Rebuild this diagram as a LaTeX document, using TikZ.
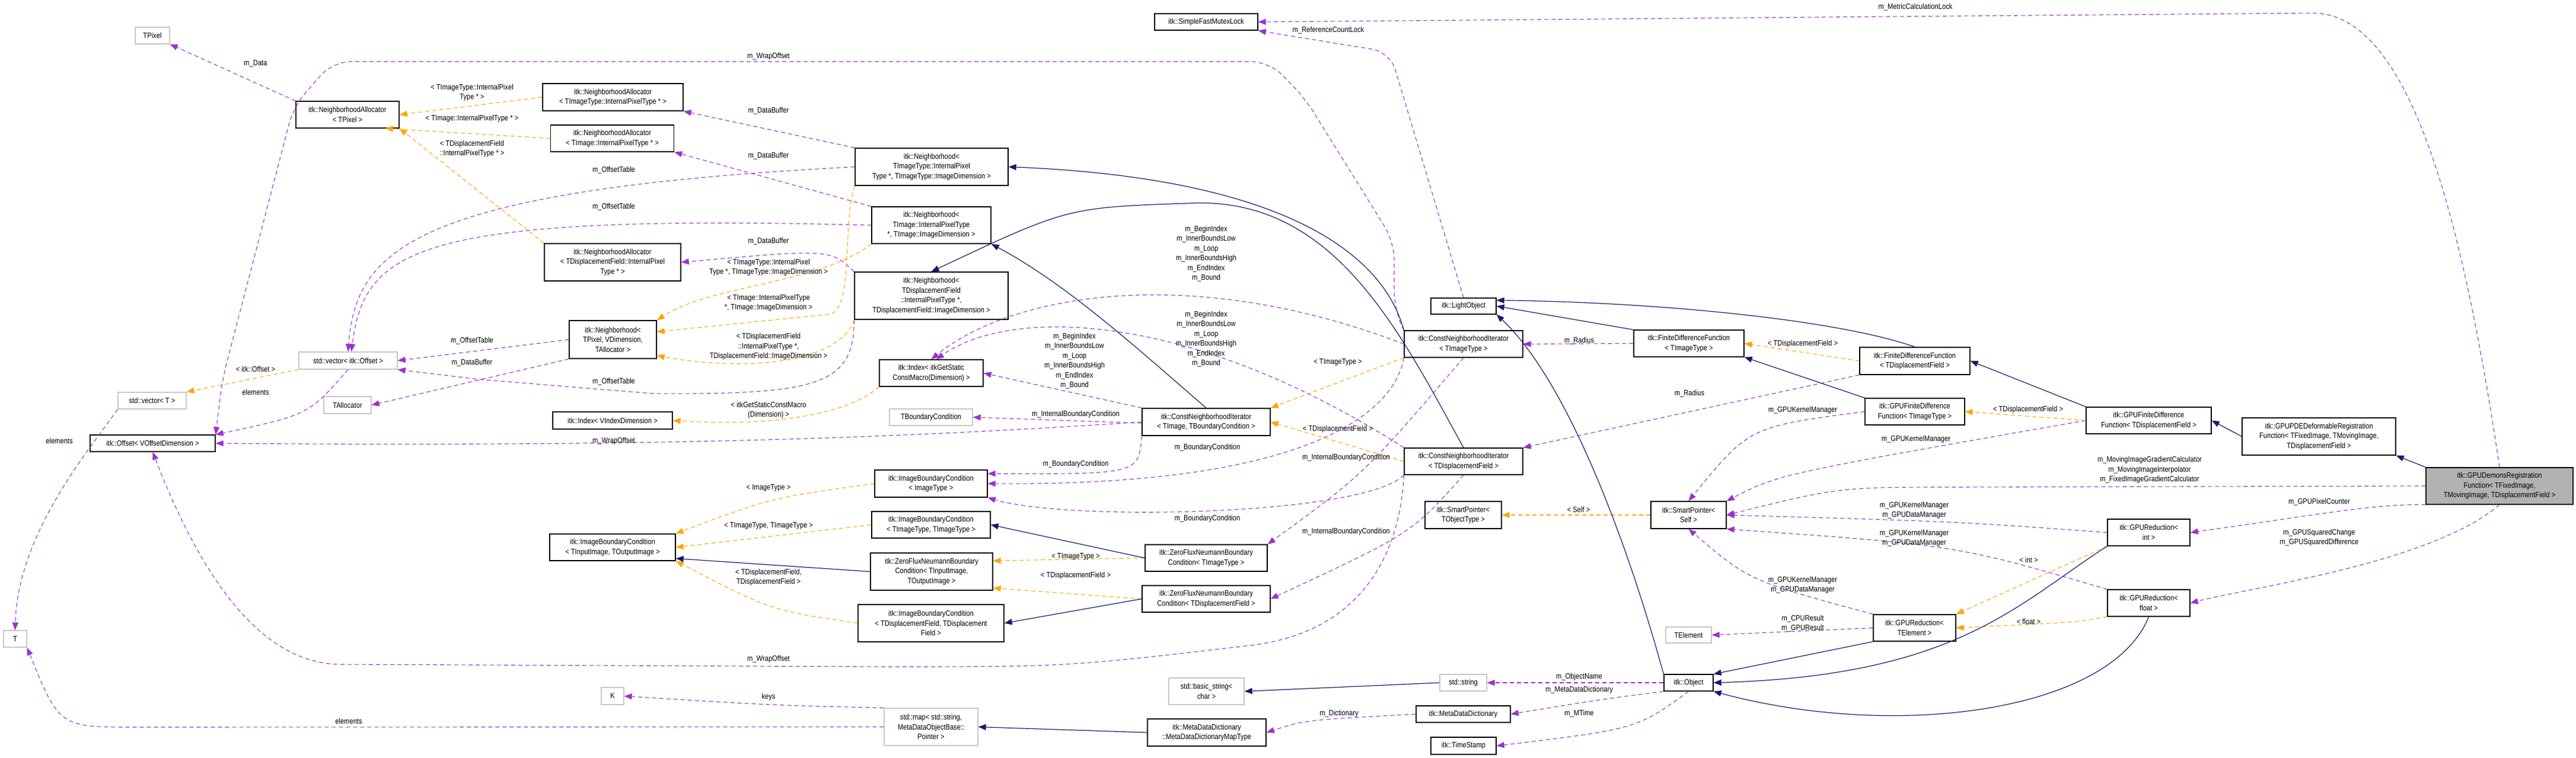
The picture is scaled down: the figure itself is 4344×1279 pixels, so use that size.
\documentclass[tikz,border=0pt]{standalone}
\usepackage{fontspec}
\setmainfont{Liberation Sans}[FakeStretch=0.86]
\usetikzlibrary{arrows.meta}
\definecolor{usec}{HTML}{9A32CD}
\definecolor{tplc}{HTML}{FFA500}
\definecolor{inhc}{HTML}{191970}
\begin{document}
\begin{tikzpicture}[x=1pt,y=-1pt,
  every node/.style={font=\fontsize{13}{16.5}\selectfont, inner sep=0pt, align=center},
  box/.style={draw=black, line width=1.3pt, fill=white},
  gbox/.style={draw=black!22, line width=1.3pt, fill=white},
  hbox/.style={draw=black, line width=1.3pt, fill=black!30},
  lbl/.style={fill=none},
  use/.style={draw=usec, dashed, dash pattern=on 7pt off 5pt, line width=1.1pt, -{Triangle[length=13pt,width=10pt]}},
  tpl/.style={draw=tplc, dashed, dash pattern=on 7pt off 5pt, line width=1.1pt, -{Triangle[length=13pt,width=10pt]}},
  inh/.style={draw=inhc, line width=1.2pt, -{Triangle[length=13pt,width=10pt]}}]
\useasboundingbox (0,0) rectangle (4344,1279);
% ---------- nodes ----------
\node[gbox, minimum width=58, minimum height=28] (TPixel) at (257,60) {TPixel};
\node[box, minimum width=174, minimum height=45] (NAtp) at (586,193.5) {itk::NeighborhoodAllocator\\< TPixel >};
\node[box, minimum width=237, minimum height=46] (NAtit) at (1033.5,164) {itk::NeighborhoodAllocator\\< TImageType::InternalPixelType * >};
\node[box, minimum width=208, minimum height=45] (NAti) at (1032.5,233.5) {itk::NeighborhoodAllocator\\< TImage::InternalPixelType * >};
\node[box, minimum width=230, minimum height=63] (NAtdf) at (1033,442.5) {itk::NeighborhoodAllocator\\< TDisplacementField::InternalPixel\\Type * >};
\node[box, minimum width=147, minimum height=64] (NbTP) at (1033.5,573) {itk::Neighborhood<\\TPixel, VDimension,\\TAllocator >};
\node[gbox, minimum width=166, minimum height=29] (vecOff) at (587,608.5) {std::vector< itk::Offset >};
\node[gbox, minimum width=115, minimum height=28] (vecT) at (256.5,676) {std::vector< T >};
\node[gbox, minimum width=80, minimum height=29] (TAlloc) at (586,683.5) {TAllocator};
\node[box, minimum width=202, minimum height=29] (IndexV) at (1033,709.5) {itk::Index< VIndexDimension >};
\node[box, minimum width=211, minimum height=28] (Offset) at (257.5,748) {itk::Offset< VOffsetDimension >};
\node[box, minimum width=212, minimum height=45] (IBCio) at (1033,923.5) {itk::ImageBoundaryCondition\\< TInputImage, TOutputImage >};
\node[gbox, minimum width=39, minimum height=28] (T) at (25.5,1078) {T};
\node[gbox, minimum width=38, minimum height=29] (K) at (1033,1174.5) {K};
\node[box, minimum width=174, minimum height=28] (SFML) at (2034,37) {itk::SimpleFastMutexLock};
\node[box, minimum width=258, minimum height=63] (NbTIT) at (1571,281.5) {itk::Neighborhood<\\ TImageType::InternalPixel\\Type *, TImageType::ImageDimension >};
\node[box, minimum width=201, minimum height=62] (NbTI) at (1570.5,380) {itk::Neighborhood<\\ TImage::InternalPixelType\\*, TImage::ImageDimension >};
\node[box, minimum width=259, minimum height=80] (NbTDF) at (1570.5,499) {itk::Neighborhood<\\TDisplacementField\\::InternalPixelType *,\\TDisplacementField::ImageDimension >};
\node[box, minimum width=175, minimum height=45] (IdxS) at (1570.5,629.5) {itk::Index< itkGetStatic\\ConstMacro(Dimension) >};
\node[gbox, minimum width=140, minimum height=28] (TBC) at (1570,704) {TBoundaryCondition};
\node[box, minimum width=216, minimum height=46] (CNItbc) at (2034,712) {itk::ConstNeighborhoodIterator\\< TImage, TBoundaryCondition >};
\node[box, minimum width=190, minimum height=46] (IBCit) at (1570,816) {itk::ImageBoundaryCondition\\< ImageType >};
\node[box, minimum width=200, minimum height=45] (IBCtt) at (1570,885.5) {itk::ImageBoundaryCondition\\< TImageType, TImageType >};
\node[box, minimum width=206, minimum height=63] (ZFNio) at (1571,964.5) {itk::ZeroFluxNeumannBoundary\\Condition< TInputImage,\\TOutputImage >};
\node[box, minimum width=206, minimum height=45] (ZFNit) at (2034,941.5) {itk::ZeroFluxNeumannBoundary\\Condition< TImageType >};
\node[box, minimum width=216, minimum height=45] (ZFNdf) at (2034,1010.5) {itk::ZeroFluxNeumannBoundary\\Condition< TDisplacementField >};
\node[box, minimum width=246, minimum height=63] (IBCdf) at (1570,1051.5) {itk::ImageBoundaryCondition\\< TDisplacementField, TDisplacement\\Field >};
\node[gbox, minimum width=127, minimum height=45] (bstr) at (2034.5,1166.5) {std::basic\_string<\\char >};
\node[gbox, minimum width=158, minimum height=63] (smap) at (1570,1226.5) {std::map< std::string,\\MetaDataObjectBase::\\Pointer >};
\node[box, minimum width=200, minimum height=46] (MDDm) at (2035,1236) {itk::MetaDataDictionary\\::MetaDataDictionaryMapType};
\node[box, minimum width=110, minimum height=27] (LO) at (2468,516.5) {itk::LightObject};
\node[box, minimum width=200, minimum height=45] (CNIit) at (2468,580.5) {itk::ConstNeighborhoodIterator\\< TImageType >};
\node[box, minimum width=186, minimum height=45] (FDFit) at (2848,579.5) {itk::FiniteDifferenceFunction\\< TImageType >};
\node[box, minimum width=186, minimum height=46] (FDFdf) at (3229,609) {itk::FiniteDifferenceFunction\\< TDisplacementField >};
\node[box, minimum width=168, minimum height=45] (GFDFit) at (3229,694.5) {itk::GPUFiniteDifference\\Function< TImageType >};
\node[box, minimum width=200, minimum height=45] (CNIdf) at (2468,778.5) {itk::ConstNeighborhoodIterator\\< TDisplacementField >};
\node[box, minimum width=129, minimum height=46] (SPto) at (2467.5,869) {itk::SmartPointer<\\TObjectType >};
\node[box, minimum width=127, minimum height=46] (SPself) at (2847.5,869) {itk::SmartPointer<\\Self >};
\node[gbox, minimum width=77, minimum height=27] (TEl) at (2847.5,1071.5) {TElement};
\node[box, minimum width=139, minimum height=45] (GRte) at (3228.5,1059.5) {itk::GPUReduction<\\TElement >};
\node[box, minimum width=83, minimum height=28] (Obj) at (2847.5,1152) {itk::Object};
\node[gbox, minimum width=79, minimum height=28] (sstr) at (2467.5,1152) {std::string};
\node[box, minimum width=159, minimum height=28] (MDD) at (2467.5,1205) {itk::MetaDataDictionary};
\node[box, minimum width=110, minimum height=29] (TS) at (2468,1258.5) {itk::TimeStamp};
\node[box, minimum width=211, minimum height=45] (GFDFdf) at (3623.5,709.5) {itk::GPUFiniteDifference\\Function< TDisplacementField >};
\node[box, minimum width=259, minimum height=63] (GPDE) at (3910.5,736.5) {itk::GPUPDEDeformableRegistration\\Function< TFixedImage, TMovingImage,\\TDisplacementField >};
\node[hbox, minimum width=248, minimum height=62] (GDem) at (4215,820) {itk::GPUDemonsRegistration\\Function< TFixedImage,\\ TMovingImage, TDisplacementField >};
\node[box, minimum width=139, minimum height=45] (GRint) at (3623.5,898.5) {itk::GPUReduction<\\int >};
\node[box, minimum width=139, minimum height=45] (GRfl) at (3623.5,1017.5) {itk::GPUReduction<\\float >};
% ---------- usage edges ----------
\draw[use] (NAtp.north west) -- (TPixel.south east);
\draw[use, rounded corners=30pt] (CNIit.north west) -- (2351,522) -- (2351,408) -- (2200,165) -- (2140,104) -- (561,104) -- (495,180) -- (375,640) -- (Offset.north east);
\draw[use] (CNItbc.west) .. controls (1500,740) and (1100,754) .. (Offset.east);
\draw[use] (CNIdf.south west) .. controls (2361,930) and (2300,1070) .. (2100,1090) .. controls (1800,1125) .. (1493,1125) -- (575,1121) .. controls (430,1121) and (330,950) .. (Offset.south);
\draw[use, rounded corners=30pt] (LO.north) -- (2344,88) -- (SFML.south east);
\draw[use] (GDem.north) .. controls (4150,350) and (4060,22) .. (3900,22) -- (SFML.east);
\draw[use] (NbTIT.north west) -- (NAtit.south east);
\draw[use] (NbTI.north west) -- (NAti.south east);
\draw[use] (NbTDF.north west) .. controls (1400,420) .. (NAtdf.east);
\draw[use] (NbTP.south west) -- (TAlloc.east);
\draw[use] (NbTIT.west) .. controls (700,320) and (600,420) .. (vecOff.north);
\draw[use] (NbTI.west) .. controls (700,360) and (615,420) .. (vecOff.70);
\draw[use] (NbTP.west) -- (vecOff.east);
\draw[use] (NbTDF.south west) .. controls (1440,650) and (1380,666) .. (1100,664) -- (807,640) -- (vecOff.south east);
\draw[use] (CNIit.west) .. controls (2000,440) and (1700,500) .. (IdxS.north);
\draw[use] (CNIdf.north west) .. controls (2000,520) and (1700,520) .. (IdxS.70);
\draw[use] (CNItbc.north west) -- (IdxS.east);
\draw[use] ([yshift=-2pt]CNItbc.west) -- (TBC.east);
\draw[use] (CNItbc.south west) .. controls (1920,800) .. (IBCit.10);
\draw[use] (CNIit.south west) .. controls (2350,700) and (2200,820) .. (IBCit.east);
\draw[use] (CNIdf.south west) .. controls (2300,870) and (1800,880) .. (IBCit.south east);
\draw[use] (CNIit.south) .. controls (2300,800) .. (ZFNit.north east);
\draw[use] (CNIdf.south) .. controls (2380,900) .. (ZFNdf.east);
\draw[use] (FDFit.west) -- (CNIit.east);
\draw[use] (FDFdf.south west) -- (CNIdf.north east);
\draw[use] (GFDFit.west) .. controls (2950,720) .. (SPself.north);
\draw[use] (GFDFdf.west) .. controls (3000,800) .. (SPself.north east);
\draw[use] (GDem.west) -- (3300,822) .. controls (3100,822) .. (SPself.east);
\draw[use] (GRint.west) .. controls (3300,880) .. (SPself.east);
\draw[use] (GRfl.north west) .. controls (3300,920) .. (SPself.south east);
\draw[use] (GRte.north west) .. controls (2950,980) .. (SPself.south);
\draw[use] (GRte.west) -- (TEl.east);
\draw[use] (GDem.south west) .. controls (4000,850) and (3900,870) .. (GRint.east);
\draw[use] (GDem.south) .. controls (4100,950) and (3800,990) .. (GRfl.east);
\draw[use] (Obj.west) -- (sstr.east);
\draw[use] (Obj.south west) .. controls (2700,1180) .. (MDD.east);
\draw[use] (Obj.south) .. controls (2760,1230) .. (TS.east);
\draw[use] (MDD.west) .. controls (2200,1215) .. (MDDm.east);
\draw[use] (smap.north west) .. controls (1300,1190) .. (K.east);
\draw[use] (smap.west) -- (230,1227) .. controls (100,1227) .. (T.south east);
\draw[use] (vecT.south west) .. controls (150,760) and (30,900) .. (T.north);
\draw[use] (vecOff.south) .. controls (520,700) .. (Offset.north east);
% ---------- template edges ----------
\draw[tpl] (NAtit.west) -- (NAtp.east);
\draw[tpl] (NAti.west) -- (NAtp.-20);
\draw[tpl] (NAtdf.north west) -- (NAtp.south east);
\draw[tpl] (NbTIT.south west) .. controls (1420,380) and (1440,520) .. (1400,530) -- (NbTP.10);
\draw[tpl] (NbTI.south west) .. controls (1380,480) and (1200,480) .. (NbTP.north east);
\draw[tpl] (NbTDF.south west) .. controls (1416,612) and (1261,628) .. (NbTP.-20);
\draw[tpl] (vecOff.south west) -- (vecT.north east);
\draw[tpl] (IdxS.south west) .. controls (1430,700) and (1300,720) .. (IndexV.east);
\draw[tpl] (IBCit.west) .. controls (1300,840) .. (IBCio.north east);
\draw[tpl] (IBCtt.west) -- (IBCio.east);
\draw[tpl] (IBCdf.west) .. controls (1300,1030) .. (IBCio.south east);
\draw[tpl] (ZFNit.west) -- (ZFNio.10);
\draw[tpl] (ZFNdf.west) -- (ZFNio.-15);
\draw[tpl] (CNIit.south west) -- (CNItbc.north east);
\draw[tpl] (CNIdf.west) -- (CNItbc.east);
\draw[tpl] (SPself.west) -- (SPto.east);
\draw[tpl] (FDFdf.west) -- (FDFit.east);
\draw[tpl] (GFDFdf.west) -- (GFDFit.east);
\draw[tpl] (GRint.south west) -- (GRte.north east);
\draw[tpl] (GRfl.south west) .. controls (3500,1050) .. (GRte.east);
% ---------- inheritance edges ----------
\draw[inh] (CNIit.north west) .. controls (2330,420) and (2150,300) .. (NbTIT.east);
\draw[inh] (CNIdf.north) .. controls (2360,560) and (2250,330) .. (2005,343) .. controls (1800,350) .. (NbTDF.north);
\draw[inh] (CNItbc.north) .. controls (1920,590) and (1800,480) .. (NbTI.south east);
\draw[inh] (FDFit.north west) -- (LO.east);
\draw[inh] (FDFdf.north) .. controls (3100,540) and (2800,510) .. (LO.10);
\draw[inh] (Obj.north west) .. controls (2740,900) and (2640,640) .. (LO.south east);
\draw[inh] (ZFNit.west) -- (IBCtt.east);
\draw[inh] (ZFNio.west) -- (IBCio.-10);
\draw[inh] (ZFNdf.west) -- (IBCdf.east);
\draw[inh] (GFDFit.north west) -- (FDFit.south east);
\draw[inh] (GFDFdf.north west) -- (FDFdf.east);
\draw[inh] (GPDE.west) -- (GFDFdf.east);
\draw[inh] (GDem.north west) -- (GPDE.south east);
\draw[inh] (GRte.south west) -- (Obj.north east);
\draw[inh] (GRint.south west) .. controls (3400,1020) and (3300,1140) .. (Obj.east);
\draw[inh] (GRfl.south) .. controls (3560,1200) and (3200,1250) .. (Obj.south east);
\draw[inh] (sstr.west) -- (bstr.east);
\draw[inh] (MDDm.west) -- (smap.east);
% ---------- labels ----------
\node[lbl] (l1) at (431,107) {m\_Data};
\node[lbl] (l2) at (796,156) {< TImageType::InternalPixel\\Type * >};
\node[lbl] (l3) at (796,200) {< TImage::InternalPixelType * >};
\node[lbl] (l4) at (796,251) {< TDisplacementField\\::InternalPixelType * >};
\node[lbl] (l5) at (1035,287) {m\_OffsetTable};
\node[lbl] (l6) at (1035,349) {m\_OffsetTable};
\node[lbl] (l7) at (796,575) {m\_OffsetTable};
\node[lbl] (l8) at (796,612) {m\_DataBuffer};
\node[lbl] (l9) at (1035,644) {m\_OffsetTable};
\node[lbl] (l10) at (431,623) {< itk::Offset >};
\node[lbl] (l11) at (431,662) {elements};
\node[lbl] (l12) at (100,744) {elements};
\node[lbl] (l13) at (588,1217) {elements};
\node[lbl] (l14) at (1035,744) {m\_WrapOffset};
\node[lbl] (l15) at (1296,95) {m\_WrapOffset};
\node[lbl] (l16) at (1296,187) {m\_DataBuffer};
\node[lbl] (l17) at (1296,263) {m\_DataBuffer};
\node[lbl] (l18) at (1296,407) {m\_DataBuffer};
\node[lbl] (l19) at (1296,451) {< TImageType::InternalPixel\\Type *, TImageType::ImageDimension >};
\node[lbl] (l20) at (1296,511) {< TImage::InternalPixelType\\*, TImage::ImageDimension >};
\node[lbl] (l21) at (1296,585) {< TDisplacementField\\::InternalPixelType *,\\TDisplacementField::ImageDimension >};
\node[lbl] (l22) at (2034,428) {m\_BeginIndex\\m\_InnerBoundsLow\\m\_Loop\\m\_InnerBoundsHigh\\m\_EndIndex\\m\_Bound};
\node[lbl] (l23) at (2034,572) {m\_BeginIndex\\m\_InnerBoundsLow\\m\_Loop\\m\_InnerBoundsHigh\\m\_EndIndex\\m\_Bound};
\node[lbl] (l24) at (1812,609) {m\_BeginIndex\\m\_InnerBoundsLow\\m\_Loop\\m\_InnerBoundsHigh\\m\_EndIndex\\m\_Bound};
\node[lbl] (l25) at (1296,692) {< itkGetStaticConstMacro\\(Dimension) >};
\node[lbl] (l26) at (1814,699) {m\_InternalBoundaryCondition};
\node[lbl] (l27) at (2036,755) {m\_BoundaryCondition};
\node[lbl] (l28) at (1814,783) {m\_BoundaryCondition};
\node[lbl] (l29) at (1296,823) {< ImageType >};
\node[lbl] (l30) at (2036,875) {m\_BoundaryCondition};
\node[lbl] (l31) at (1296,887) {< TImageType, TImageType >};
\node[lbl] (l32) at (1814,939) {< TImageType >};
\node[lbl] (l33) at (1814,971) {< TDisplacementField >};
\node[lbl] (l34) at (1296,974) {< TDisplacementField,\\TDisplacementField >};
\node[lbl] (l35) at (1296,1112) {m\_WrapOffset};
\node[lbl] (l36) at (1296,1176) {keys};
\node[lbl] (l37) at (2270,772) {m\_InternalBoundaryCondition};
\node[lbl] (l38) at (2270,897) {m\_InternalBoundaryCondition};
\node[lbl] (l39) at (3230,12) {m\_MetricCalculationLock};
\node[lbl] (l40) at (2240,51) {m\_ReferenceCountLock};
\node[lbl] (l41) at (2663,575) {m\_Radius};
\node[lbl] (l42) at (3040,580) {< TDisplacementField >};
\node[lbl] (l43) at (2256,611) {< TImageType >};
\node[lbl] (l44) at (2256,724) {< TDisplacementField >};
\node[lbl] (l45) at (2849,664) {m\_Radius};
\node[lbl] (l46) at (3040,692) {m\_GPUKernelManager};
\node[lbl] (l47) at (3231,741) {m\_GPUKernelManager};
\node[lbl] (l48) at (2662,860) {< Self >};
\node[lbl] (l49) at (3228,861) {m\_GPUKernelManager\\m\_GPUDataManager};
\node[lbl] (l50) at (3228,908) {m\_GPUKernelManager\\m\_GPUDataManager};
\node[lbl] (l51) at (3040,987) {m\_GPUKernelManager\\m\_GPUDataManager};
\node[lbl] (l52) at (3040,1052) {m\_CPUResult\\m\_GPUResult};
\node[lbl] (l53) at (2663,1142) {m\_ObjectName};
\node[lbl] (l54) at (2663,1164) {m\_MetaDataDictionary};
\node[lbl] (l55) at (2258,1204) {m\_Dictionary};
\node[lbl] (l56) at (2663,1204) {m\_MTime};
\node[lbl] (l57) at (3420,691) {< TDisplacementField >};
\node[lbl] (l58) at (3625,793) {m\_MovingImageGradientCalculator\\m\_MovingImageInterpolator\\m\_FixedImageGradientCalculator};
\node[lbl] (l59) at (3911,847) {m\_GPUPixelCounter};
\node[lbl] (l60) at (3911,907) {m\_GPUSquaredChange\\m\_GPUSquaredDifference};
\node[lbl] (l61) at (3421,945) {< int >};
\node[lbl] (l62) at (3421,1049) {< float >};
\end{tikzpicture}
\end{document}
